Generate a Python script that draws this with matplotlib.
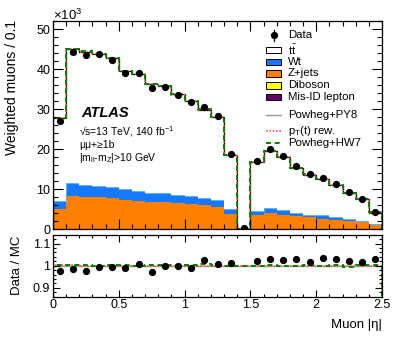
import numpy as np
import matplotlib
matplotlib.use("Agg")
import matplotlib.pyplot as plt
from matplotlib.lines import Line2D
from matplotlib.patches import Rectangle
from matplotlib.ticker import MultipleLocator, FuncFormatter

plt.rcParams['font.family'] = ['Liberation Sans', 'DejaVu Sans']
plt.rcParams['mathtext.fontset'] = 'custom'
plt.rcParams['mathtext.rm'] = 'Liberation Sans'
plt.rcParams['mathtext.it'] = 'Liberation Sans:italic'
plt.rcParams['mathtext.bf'] = 'Liberation Sans:bold'

# muon |eta| bins, width 0.1
edges = np.round(np.arange(0, 2.51, 0.1), 2)
centers = 0.5 * (edges[:-1] + edges[1:])

# yields in units of 10^3
data = [27.1, 44.4, 43.6, 43.7, 42.4, 39.0, 39.0, 35.3, 35.5, 33.6, 31.7, 30.5, 28.2,
        18.8, 0.25, 17.2, 20.0, 18.3, 15.8, 13.9, 12.9, 11.3, 9.3, 7.7, 4.3]
ttbar = [20.6, 33.5, 33.3, 33.0, 32.0, 29.5, 29.1, 27.2, 26.8, 25.0, 23.6, 22.0, 20.7,
         13.6, 0.1, 12.3, 14.2, 13.2, 11.1, 10.0, 9.0, 8.0, 6.4, 5.4, 2.95]
wt = [1.9, 3.1, 2.9, 2.9, 2.9, 2.7, 2.5, 2.3, 2.2, 2.1, 2.0, 1.9, 1.6,
      1.2, 0.0, 1.0, 1.2, 1.1, 0.9, 0.7, 0.8, 0.6, 0.5, 0.45, 0.25]
zjets = [5.0, 8.2, 8.0, 7.8, 7.6, 7.1, 7.0, 6.7, 6.6, 6.4, 6.2, 5.8, 5.5,
         3.6, 0.0, 3.4, 3.9, 3.5, 3.1, 2.8, 2.5, 2.2, 2.0, 1.55, 0.8]
diboson = [0.15] * 14 + [0.0] + [0.15] * 10
misid = [0.05] * 14 + [0.0] + [0.05] * 10

# Data / MC and alternative MC / nominal
ratio = [0.977, 0.987, 0.978, 0.996, 0.994, 0.988, 1.006, 0.971, 1.0, 0.997, 0.991, 1.025, 1.006,
         1.01, np.nan, 1.019, 1.028, 1.025, 1.031, 1.016, 1.034, 1.031, 1.022, 1.016, 1.031]
ptrew = [1.001, 1.001, 1.0, 1.0, 1.0, 1.0, 0.999, 1.0, 1.0, 0.999, 1.0, 1.0, 1.0,
         0.999, 1.0, 0.999, 0.998, 0.998, 0.998, 0.998, 0.997, 0.998, 0.997, 0.998, 0.998]
hw7 = [1.002, 1.001, 1.002, 1.0, 1.001, 1.002, 1.0, 1.001, 1.002, 1.002, 1.003, 1.008, 1.003,
       0.998, 1.0, 0.997, 1.001, 1.0, 1.0, 1.001, 1.0, 1.002, 0.996, 1.002, 1.003]

W, H = 398, 339


def fx(px):
    return px / W


def fy(py):
    return 1 - py / H


fig = plt.figure(figsize=(W / 100, H / 100), dpi=100)
ax = fig.add_axes([fx(53), fy(229.3), (382 - 53) / W, (229.3 - 20.7) / H])
rax = fig.add_axes([fx(53), fy(296.7), (382 - 53) / W, (296.7 - 234.7) / H])

colors = {'misid': '#660066', 'diboson': '#ffff00', 'zjets': '#ff7f00',
          'wt': '#1677ff', 'ttbar': 'white'}

bottom = np.zeros(len(centers))
for vals, key in [(misid, 'misid'), (diboson, 'diboson'), (zjets, 'zjets'),
                  (wt, 'wt'), (ttbar, 'ttbar')]:
    top = bottom + np.array(vals)
    ax.stairs(top, edges, baseline=bottom, fill=True, color=colors[key], lw=0)
    if key == 'wt':
        ax.stairs(top, edges, baseline=None, color='#5ab4ff', lw=0.8)
    bottom = top
total = bottom

ax.stairs(total, edges, color='k', lw=0.9)
ax.stairs(total * np.array(ptrew), edges, color='#ff5050', lw=1.2, ls=(0, (1, 1)))
ax.stairs(total * np.array(hw7), edges, color='#008000', lw=1.4, ls=(0, (2.5, 2)))
ax.plot(centers, data, 'o', color='k', ms=4.2, zorder=5)

ax.set_xlim(0, 2.5)
ax.set_ylim(0, 52.15)
ax.xaxis.set_major_locator(MultipleLocator(0.5))
ax.xaxis.set_minor_locator(MultipleLocator(0.1))
ax.yaxis.set_major_locator(MultipleLocator(10))
ax.yaxis.set_minor_locator(MultipleLocator(2))
ax.tick_params(which='both', direction='in', top=True, right=True, labelbottom=False,
               labelsize=9, width=0.8, pad=2)
ax.tick_params(which='major', length=7)
ax.tick_params(which='minor', length=3.5)

# ratio panel
rax.stairs(np.ones(len(centers)), edges, color='#999999', lw=1.0)
rax.stairs(ptrew, edges, color='#ff5050', lw=1.2, ls=(0, (1, 1)))
rax.stairs(hw7, edges, color='#008000', lw=1.4, ls=(0, (2.5, 2)))
rax.plot(centers, ratio, 'o', color='k', ms=4.2, zorder=5)
rax.set_xlim(0, 2.5)
rax.set_ylim(0.86, 1.14)
rax.xaxis.set_major_locator(MultipleLocator(0.5))
rax.xaxis.set_minor_locator(MultipleLocator(0.1))
rax.yaxis.set_major_locator(MultipleLocator(0.1))
rax.yaxis.set_minor_locator(MultipleLocator(0.02))
fmt = FuncFormatter(lambda v, p: '%g' % round(v, 3))
rax.xaxis.set_major_formatter(fmt)
rax.yaxis.set_major_formatter(fmt)
rax.tick_params(which='both', direction='in', top=True, right=True,
                labelsize=9, width=0.8, pad=2)
rax.tick_params(which='major', length=5)
rax.tick_params(which='minor', length=2.5)

for a in (ax, rax):
    for s in a.spines.values():
        s.set_linewidth(0.9)

# axis titles
fig.text(fx(12), fy(20), 'Weighted muons / 0.1', rotation=90, ha='center', va='top', fontsize=10)
fig.text(fx(17), fy(265.7), 'Data / MC', rotation=90, ha='center', va='center', fontsize=9.5)
fig.text(fx(382), fy(325), 'Muon |η|', ha='right', va='center', fontsize=9.5)
fig.text(fx(53), fy(15), r'$\times$10$^{3}$', ha='left', va='center', fontsize=9.5)

# ATLAS label
fig.text(fx(81), fy(113), 'ATLAS', fontweight='bold', fontstyle='italic', fontsize=10.5, va='center')
fig.text(fx(79), fy(132), '√s=13 TeV, 140 fb$^{-1}$', fontsize=7.5, va='center')
fig.text(fx(79), fy(145), 'μμ+≥1b', fontsize=7.5, va='center')
fig.text(fx(79), fy(158), r'|m$_{\mathrm{ll}}$-m$_{\mathrm{Z}}$|>10 GeV', fontsize=7.5, va='center')

# legend
lx0, lx1, tx = 266, 281, 288
lfs = 8.2
fig.add_artist(Line2D([fx(273.5), fx(273.5)], [fy(30), fy(41)], color='k', lw=0.9))
fig.add_artist(Line2D([fx(273.5)], [fy(35)], marker='o', color='k', ms=4.2))
fig.text(fx(tx), fy(35), 'Data', fontsize=lfs, va='center')
boxes = [(r'$\mathrm{t}\bar{\mathrm{t}}$', 'white', 50),
         ('Wt', colors['wt'], 62),
         ('Z+jets', colors['zjets'], 73.5),
         ('Diboson', colors['diboson'], 85.3),
         ('Mis-ID lepton', colors['misid'], 97)]
for lab, c, yy in boxes:
    fig.add_artist(Rectangle((fx(lx0), fy(yy + 3.2)), (lx1 - lx0) / W, 6.4 / H,
                             facecolor=c, edgecolor='k', lw=0.7))
    fig.text(fx(tx), fy(yy), lab, fontsize=lfs, va='center')
lines = [('Powheg+PY8', dict(color='#999999', lw=1.0), 115),
         (r'p$_{\mathrm{T}}$(t) rew.', dict(color='#ff5050', lw=1.2, ls=(0, (1, 1))), 131),
         ('Powheg+HW7', dict(color='#008000', lw=1.4, ls=(0, (2.5, 2))), 142.7)]
for lab, kw, yy in lines:
    fig.add_artist(Line2D([fx(lx0), fx(lx1)], [fy(yy), fy(yy)], **kw))
    fig.text(fx(tx), fy(yy), lab, fontsize=lfs, va='center')

fig.savefig('out.png', dpi=100)
